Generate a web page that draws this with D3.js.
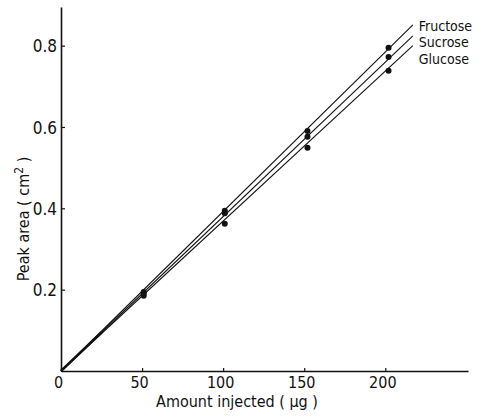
<!DOCTYPE html>
<html>
<head>
<meta charset="utf-8">
<script src="https://cdn.jsdelivr.net/npm/d3@7"></script>
<style>
  body { margin: 0; background: #fff; }
  text { font-family: "DejaVu Sans Condensed", "DejaVu Sans", sans-serif; fill: #111; }
</style>
</head>
<body>
<svg id="chart" width="484" height="417"></svg>
<script>
// ---- data ----
const amounts   = [0, 51, 101, 152, 202];          // µg injected
const fructose  = [0, 0.194, 0.394, 0.590, 0.795]; // cm²
const sucrose   = [0, 0.190, 0.388, 0.576, 0.772];
const glucose   = [0, 0.185, 0.362, 0.549, 0.738];
const seriesNames = ["Fructose", "Sucrose", "Glucose"];
// straight calibration lines: [start, end] as [amount, area]
const fructoseLine = [[0, 0], [217, 0.851]];
const sucroseLine  = [[0, 0], [217, 0.824]];
const glucoseLine  = [[0, 0], [217, 0.800]];
const xTicks = [0, 50, 100, 150, 200];
const xTickLabels = ["0", "50", "100", "150", "200"];
const yTicks = [0.2, 0.4, 0.6, 0.8];
const yTickLabels = ["0.2", "0.4", "0.6", "0.8"];
const xTitle = "Amount injected  ( µg )";
const yTitleMain = "Peak area  ( cm";
const yTitleSup = "2";
const yTitleEnd = " )";

const svg = d3.select("#chart");
const x = d3.scaleLinear().domain([0, 251]).range([61, 468]);
const y = d3.scaleLinear().domain([0, 0.895]).range([371, 7]);

// axes
const xAxis = d3.axisBottom(x).tickValues(xTicks).tickSize(-3)
  .tickFormat((d, i) => xTickLabels[i]).tickSizeOuter(0);
const gx = svg.append("g").attr("transform", `translate(0,${y(0)})`).call(xAxis);
gx.select(".domain").attr("stroke", "#111").attr("stroke-width", 1.4);
gx.selectAll(".tick line").attr("stroke", "#111").attr("stroke-width", 1.2);
gx.selectAll(".tick text").attr("dy", 0).attr("y", 17).attr("dx", -3)
  .style("font-size", "16px").attr("fill", "#111");

const yAxis = d3.axisLeft(y).tickValues(yTicks).tickSize(-4)
  .tickFormat((d, i) => yTickLabels[i]).tickSizeOuter(0);
const gy = svg.append("g").attr("transform", `translate(${x(0)},0)`).call(yAxis);
gy.select(".domain").attr("stroke", "#111").attr("stroke-width", 1.6);
gy.selectAll(".tick line").attr("stroke", "#111").attr("stroke-width", 1.2);
gy.selectAll(".tick text").attr("x", -4).attr("dy", "0.36em")
  .style("font-size", "17px").attr("fill", "#111");

// titles
svg.append("text").attr("x", 237).attr("y", 407).attr("text-anchor", "middle")
  .style("font-size", "16px").text(xTitle);
const yt = svg.append("text").attr("transform", "translate(29,219) rotate(-90)")
  .attr("text-anchor", "middle").style("font-size", "16px");
yt.append("tspan").text(yTitleMain);
yt.append("tspan").attr("dy", -6).style("font-size", "12px").text(yTitleSup);
yt.append("tspan").attr("dy", 6).text(yTitleEnd);

// lines
const line = d3.line().x(d => x(d[0])).y(d => y(d[1]));
[fructoseLine, sucroseLine, glucoseLine].forEach(l => {
  svg.append("path").datum(l).attr("d", line)
    .attr("fill", "none").attr("stroke", "#111").attr("stroke-width", 1.1);
});
// thicker convergence near origin
svg.append("path").datum([[0, 0], [25, 0.095]]).attr("d", line)
  .attr("fill", "none").attr("stroke", "#111").attr("stroke-width", 2.5);

// points
const series = [fructose, sucrose, glucose];
series.forEach(vals => {
  svg.append("g").selectAll("circle")
    .data(amounts.map((a, i) => [a, vals[i]]).filter(d => d[0] > 0))
    .join("circle")
    .attr("cx", d => x(d[0])).attr("cy", d => y(d[1])).attr("r", 3)
    .attr("fill", "#111");
});

// labels at line ends
const ends = [fructoseLine, sucroseLine, glucoseLine];
const labelBaselines = [31, 47, 64];
seriesNames.forEach((n, i) => {
  svg.append("text").attr("x", x(ends[i][1][0]) + 6).attr("y", labelBaselines[i])
    .style("font-size", "14px").text(n);
});
</script>
</body>
</html>
